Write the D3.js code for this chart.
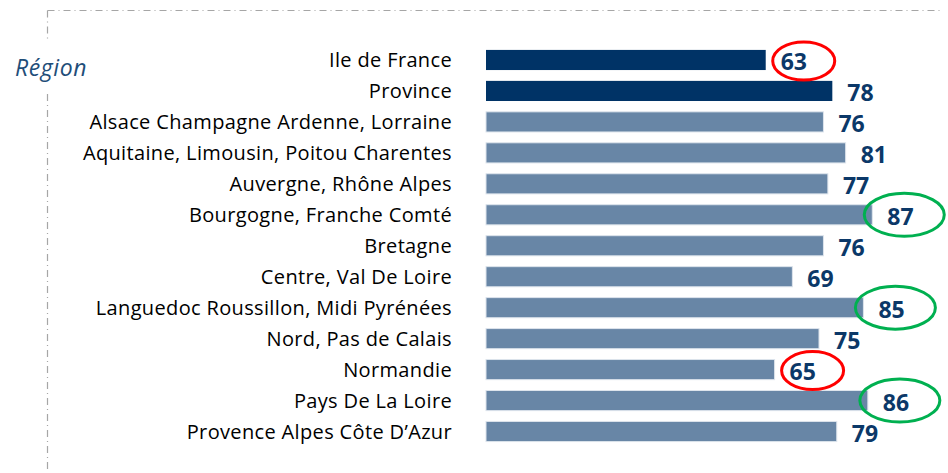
<!DOCTYPE html>
<html>
<head>
<meta charset="utf-8">
<script src="https://cdn.jsdelivr.net/npm/d3@7"></script>
<style>
  body { margin: 0; background: #fff; }
</style>
</head>
<body>
<div id="canvas"></div>
<script>
"use strict"

// data
let regions = ["Ile de France", "Province", "Alsace Champagne Ardenne, Lorraine",
    "Aquitaine, Limousin, Poitou Charentes", "Auvergne, Rhône Alpes", "Bourgogne, Franche Comté",
    "Bretagne", "Centre, Val De Loire", "Languedoc Roussillon, Midi Pyrénées", "Nord, Pas de Calais",
    "Normandie", "Pays De La Loire", "Provence Alpes Côte D’Azur"]
let scores = [63, 78, 76, 81, 77, 87, 76, 69, 85, 75, 65, 86, 79]
let totals = ["Ile de France", "Province"]          // dark bars
let lowOnes = ["Ile de France", "Normandie"]         // red circles
let highOnes = ["Bourgogne, Franche Comté", "Languedoc Roussillon, Midi Pyrénées", "Pays De La Loire"] // green circles

let drawing = d3.select("#canvas")
    .append("svg")
    .attr("width", 948)
    .attr("height", 473)

// dash-dot frame, top and left
let frameTop = drawing.append("line")
    .attr("x1", 47.5).attr("y1", 10.5)
    .attr("x2", 942).attr("y2", 10.5)
    .attr("stroke", "#a6a6a6")
    .attr("stroke-width", 1.2)
    .attr("stroke-dasharray", "7 4 1 4")

let frameLeftTop = drawing.append("line")
    .attr("x1", 47.5).attr("y1", 10.5)
    .attr("x2", 47.5).attr("y2", 40)
    .attr("stroke", "#a6a6a6")
    .attr("stroke-width", 1.2)
    .attr("stroke-dasharray", "7 4 1 4")

let frameLeftBottom = drawing.append("line")
    .attr("x1", 47.5).attr("y1", 94)
    .attr("x2", 47.5).attr("y2", 473)
    .attr("stroke", "#a6a6a6")
    .attr("stroke-width", 1.2)
    .attr("stroke-dasharray", "7 4 1 4")

let regionTitle = drawing.append("text")
    .attr("x", 15)
    .attr("y", 76)
    .attr("font-family", "Open Sans")
    .attr("font-style", "italic")
    .attr("font-size", 23)
    .attr("letter-spacing", 0.6)
    .attr("fill", "#1f4e79")
    .text("Région")

// scales
let x = d3.scaleLinear()
    .domain([0, 100])
    .range([486, 930])

let y = d3.scaleBand()
    .domain(regions)
    .range([44.5, 447])
    .paddingInner(0.35)
    .paddingOuter(0.175)

let rows = regions.map((r, i) => ({ region: r, score: scores[i] }))

let bars = drawing.append("g")
    .selectAll("rect")
    .data(rows)
    .join("rect")
    .attr("x", x(0))
    .attr("y", d => y(d.region))
    .attr("width", d => x(d.score) - x(0))
    .attr("height", y.bandwidth())
    .attr("fill", d => totals.includes(d.region) ? "#003366" : "#6886a6")
    .attr("stroke", d => totals.includes(d.region) ? "none" : "#dde4ec")
    .attr("stroke-width", 1)

// region names, right aligned
let names = drawing.append("g")
    .selectAll("text")
    .data(rows)
    .join("text")
    .attr("x", 452)
    .attr("y", d => y(d.region) + y.bandwidth() / 2 + 7)
    .attr("text-anchor", "end")
    .attr("font-family", "Open Sans")
    .attr("font-size", 20)
    .attr("letter-spacing", 0.35)
    .attr("fill", "#000")
    .text(d => d.region)

// value labels
let values = drawing.append("g")
    .selectAll("text")
    .data(rows)
    .join("text")
    .attr("x", d => x(d.score) + 15)
    .attr("y", d => y(d.region) + y.bandwidth() / 2 + 10.5)
    .attr("font-family", "Open Sans")
    .attr("font-weight", "bold")
    .attr("font-size", 23)
    .attr("fill", "#0b3868")
    .text(d => d.score)

// red and green circles round the extreme scores
let lowCircles = drawing.append("g")
    .selectAll("ellipse")
    .data(rows.filter(d => lowOnes.includes(d.region)))
    .join("ellipse")
    .attr("cx", d => x(d.score) + 38)
    .attr("cy", d => y(d.region) + y.bandwidth() / 2 + 1)
    .attr("rx", 31)
    .attr("ry", 19)
    .attr("fill", "none")
    .attr("stroke", "#ff0000")
    .attr("stroke-width", 3)

let highCircles = drawing.append("g")
    .selectAll("ellipse")
    .data(rows.filter(d => highOnes.includes(d.region)))
    .join("ellipse")
    .attr("cx", d => x(d.score) + 32)
    .attr("cy", d => y(d.region) + y.bandwidth() / 2)
    .attr("rx", 40)
    .attr("ry", 21.5)
    .attr("fill", "none")
    .attr("stroke", "#00b050")
    .attr("stroke-width", 3)
</script>
</body>
</html>
